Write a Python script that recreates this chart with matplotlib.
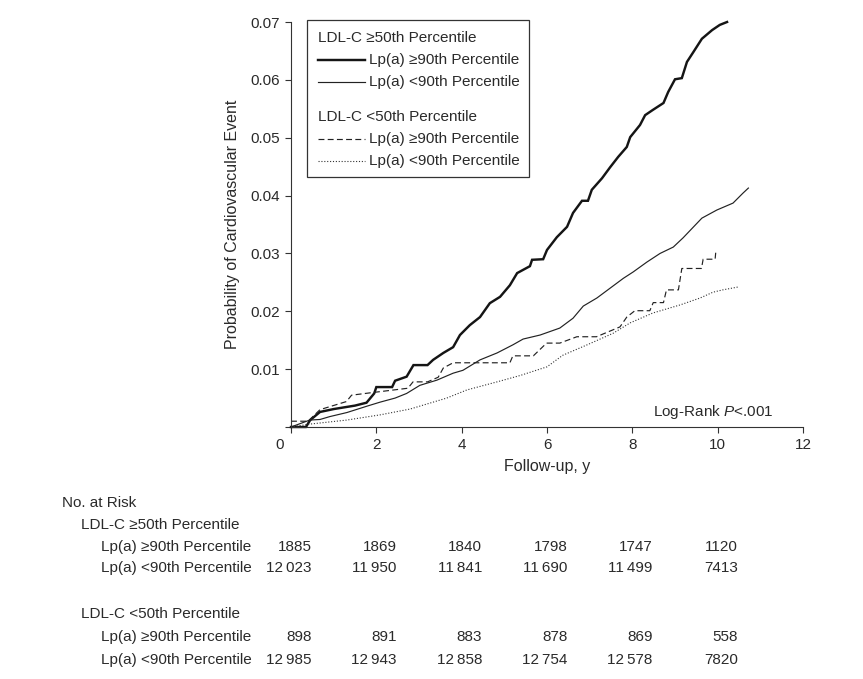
import matplotlib
matplotlib.use("Agg")
import matplotlib.pyplot as plt
from matplotlib.lines import Line2D
from matplotlib.patches import Rectangle
import matplotlib.transforms as mtransforms

plt.rcParams['font.family'] = ['Liberation Sans', 'DejaVu Sans']
plt.rcParams['mathtext.fontset'] = 'custom'
plt.rcParams['mathtext.it'] = 'Liberation Sans:italic'
plt.rcParams['mathtext.rm'] = 'Liberation Sans'

TXT = '#2a2a2a'

# ---- data (follow-up years, cumulative probability) ----
hi_hi_t = [0, 0.35, 0.45, 0.68, 1.0, 1.5, 1.77, 1.95, 2.0, 2.37, 2.44, 2.71, 2.87, 3.2, 3.33, 3.57,
           3.80, 3.96, 4.19, 4.43, 4.66, 4.90, 5.13, 5.30, 5.60, 5.65, 5.91, 6.0, 6.23, 6.47, 6.61,
           6.82, 6.96, 7.05, 7.29, 7.48, 7.67, 7.87, 7.95, 8.18, 8.30, 8.48, 8.73, 8.84, 9.0, 9.16,
           9.28, 9.43, 9.63, 9.87, 10.05, 10.22]
hi_hi_p = [0, 0, 0.0012, 0.0026, 0.0031, 0.0037, 0.0042, 0.0058, 0.0069, 0.0069, 0.0080, 0.0087,
           0.0107, 0.0107, 0.0116, 0.0128, 0.0138, 0.0159, 0.0176, 0.0190, 0.0214, 0.0225, 0.0245,
           0.0266, 0.0278, 0.0289, 0.0290, 0.0306, 0.0328, 0.0346, 0.0370, 0.0391, 0.0391, 0.0410,
           0.0430, 0.0449, 0.0467, 0.0484, 0.0501, 0.0522, 0.0539, 0.0548, 0.0560, 0.0579, 0.0601,
           0.0603, 0.0631, 0.0648, 0.0671, 0.0686, 0.0695, 0.0700]

hi_lo_t = [0, 0.44, 0.68, 0.91, 1.31, 1.78, 2.09, 2.44, 2.71, 3.02, 3.42, 3.80, 4.03, 4.43, 4.83,
           5.20, 5.44, 5.84, 6.30, 6.61, 6.85, 7.17, 7.48, 7.79, 8.02, 8.34, 8.65, 8.96, 9.19, 9.63,
           9.98, 10.36, 10.59, 10.72]
hi_lo_p = [0, 0.0012, 0.0013, 0.0018, 0.0025, 0.0036, 0.0043, 0.0050, 0.0058, 0.0072, 0.0081,
           0.0093, 0.0098, 0.0116, 0.0128, 0.0142, 0.0152, 0.0159, 0.0171, 0.0188, 0.0209, 0.0223,
           0.0240, 0.0257, 0.0268, 0.0285, 0.0300, 0.0311, 0.0327, 0.0361, 0.0375, 0.0387, 0.0404,
           0.0413]

lo_hi_t = [0, 0.40, 0.68, 1.30, 1.42, 1.85, 2.74, 2.86, 3.20, 3.45, 3.57, 3.80, 5.13, 5.20, 5.68,
           5.99, 6.30, 6.70, 7.16, 7.71, 7.87, 8.06, 8.41, 8.49, 8.73, 8.80, 9.08, 9.16, 9.62, 9.66,
           9.94, 9.96]
lo_hi_p = [0.0010, 0.0010, 0.0030, 0.0044, 0.0055, 0.0059, 0.0067, 0.0078, 0.0078, 0.0086, 0.0102,
           0.0111, 0.0111, 0.0123, 0.0123, 0.0145, 0.0145, 0.0156, 0.0156, 0.0173, 0.0190, 0.0201,
           0.0201, 0.0215, 0.0215, 0.0237, 0.0237, 0.0274, 0.0274, 0.0290, 0.0290, 0.0306]

lo_lo_t = [0, 0.44, 1.31, 2.09, 2.79, 3.65, 4.12, 4.83, 5.37, 6.0, 6.37, 6.94, 7.55, 7.95, 8.48,
           9.12, 9.59, 9.89, 10.12, 10.48]
lo_lo_p = [0, 0.0005, 0.0012, 0.0021, 0.0031, 0.0050, 0.0064, 0.0078, 0.0089, 0.0104, 0.0124,
           0.0142, 0.0162, 0.0180, 0.0197, 0.0211, 0.0223, 0.0233, 0.0237, 0.0242]

x_ticks = [0, 2, 4, 6, 8, 10, 12]
y_ticks = [0, 0.01, 0.02, 0.03, 0.04, 0.05, 0.06, 0.07]
y_tick_labels = ['', '0.01', '0.02', '0.03', '0.04', '0.05', '0.06', '0.07']

risk_times = [0, 2, 4, 6, 8, 10]
risk_hi_hi = ['1885', '1869', '1840', '1798', '1747', '1120']
risk_hi_lo = ['12\u2009023', '11\u2009950', '11\u2009841', '11\u2009690', '11\u2009499', '7413']
risk_lo_hi = ['898', '891', '883', '878', '869', '558']
risk_lo_lo = ['12\u2009985', '12\u2009943', '12\u2009858', '12\u2009754', '12\u2009578', '7820']

group_hi = 'LDL-C \u226550th Percentile'
group_lo = 'LDL-C <50th Percentile'
lab_hi = 'Lp(a) \u226590th Percentile'
lab_lo = 'Lp(a) <90th Percentile'

# ---- figure ----
W, H = 863, 679
fig = plt.figure(figsize=(W / 100, H / 100), dpi=100)
L, R, T, B = 291, 803, 22, 427
ax = fig.add_axes([L / W, 1 - B / H, (R - L) / W, (B - T) / H])

styles = {
    'hh': dict(color='#151515', lw=1.75, solid_joinstyle='miter'),
    'hl': dict(color='#222222', lw=0.85),
    'lh': dict(color='#222222', lw=0.85, linestyle=(0, (5, 2.8))),
    'll': dict(color='#333333', lw=0.8, linestyle=(0, (1, 1.6))),
}
ax.plot(hi_hi_t, hi_hi_p, clip_on=False, **styles['hh'])
ax.plot(hi_lo_t, hi_lo_p, clip_on=False, **styles['hl'])
ax.plot(lo_hi_t, lo_hi_p, clip_on=False, **styles['lh'])
ax.plot(lo_lo_t, lo_lo_p, clip_on=False, **styles['ll'])

ax.set_xlim(0, 12)
ax.set_ylim(0, 0.07)
ax.set_xticks(x_ticks)
ax.set_xticklabels([str(v) for v in x_ticks])
ax.set_yticks(y_ticks)
ax.set_yticklabels(y_tick_labels)
for s in ['top', 'right']:
    ax.spines[s].set_visible(False)
for s in ['left', 'bottom']:
    ax.spines[s].set_color('#333333')
    ax.spines[s].set_linewidth(0.8)
ax.tick_params(direction='out', length=4, width=0.8, color='#333333',
               labelsize=11, labelcolor=TXT, pad=4)
# the "0" label sits slightly left of its tick in the original
off = mtransforms.ScaledTranslation(-11 / 100, 0, fig.dpi_scale_trans)
lbl0 = ax.get_xticklabels()[0]
lbl0.set_transform(lbl0.get_transform() + off)

ax.set_xlabel('Follow-up, y', fontsize=11.5, color=TXT)
ax.set_ylabel('Probability of Cardiovascular Event', fontsize=11.5, color=TXT)
ax.xaxis.set_label_coords(0.5, (B - 466) / (B - T), transform=ax.transAxes)
ax.yaxis.set_label_coords((232 - L) / (R - L), 0.5)
ax.xaxis.label.set_va('center')
ax.yaxis.label.set_va('center')

ax.text(11.30, 0.0026, 'Log-Rank $\\mathit{P}$<.001', ha='right', va='center',
        fontsize=11, color=TXT)

# ---- legend (drawn in figure pixel positions) ----
def fx(px):
    return px / W

def fy(py):
    return 1 - py / H

fig.patches.append(Rectangle((fx(307), fy(177)), fx(529) - fx(307), fy(20) - fy(177),
                             transform=fig.transFigure, fill=False, edgecolor='#333333', lw=0.9))
leg_rows = [
    (38, group_hi, None),
    (60, lab_hi, 'hh'),
    (82, lab_lo, 'hl'),
    (117, group_lo, None),
    (139, lab_hi, 'lh'),
    (161, lab_lo, 'll'),
]
for py, txt, key in leg_rows:
    if key is None:
        fig.text(fx(318), fy(py), txt, ha='left', va='center', fontsize=11, color=TXT)
    else:
        fig.add_artist(Line2D([fx(318), fx(365)], [fy(py), fy(py)],
                              transform=fig.transFigure, **styles[key]))
        fig.text(fx(369), fy(py), txt, ha='left', va='center', fontsize=11, color=TXT)

# ---- number at risk table ----
bt = mtransforms.blended_transform_factory(ax.transData, fig.transFigure)
fig.text(fx(62), fy(503), 'No. at Risk', ha='left', va='center', fontsize=11, color=TXT)
fig.text(fx(81), fy(525), group_hi, ha='left', va='center', fontsize=11, color=TXT)
fig.text(fx(81), fy(614), group_lo, ha='left', va='center', fontsize=11, color=TXT)
rows = [(547, lab_hi, risk_hi_hi), (568, lab_lo, risk_hi_lo),
        (637, lab_hi, risk_lo_hi), (660, lab_lo, risk_lo_lo)]
for py, lab, vals in rows:
    fig.text(fx(101), fy(py), lab, ha='left', va='center', fontsize=11, color=TXT)
    for t, v in zip(risk_times, vals):
        ax.text(t + 0.48, fy(py), v, transform=bt, ha='right', va='center',
                fontsize=11, color=TXT, clip_on=False)

fig.savefig('out.png', dpi=100)
